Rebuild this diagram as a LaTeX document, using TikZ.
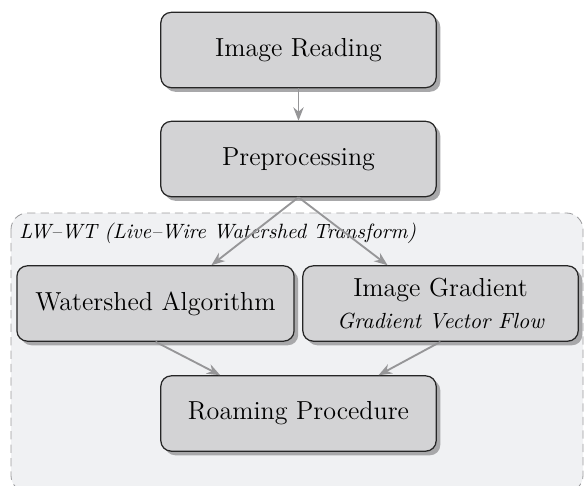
\documentclass[tikz,border=0pt]{standalone}
\usetikzlibrary{shadows,arrows.meta}

\definecolor{boxgray}{RGB}{211,211,213}
\definecolor{shadowgray}{RGB}{168,168,170}
\definecolor{panelgray}{RGB}{240,241,243}
\definecolor{dashgray}{RGB}{155,155,157}
\definecolor{arrowgray}{RGB}{150,150,152}

\tikzset{
  blk/.style={draw=black!85, fill=boxgray, rounded corners=5pt, line width=0.6pt,
    minimum width=4.68cm, minimum height=1.28cm, font=\fontsize{12.6}{15.2}\selectfont, align=center,
    drop shadow={shadow xshift=0.07cm, shadow yshift=-0.07cm, fill=shadowgray, opacity=1}},
  arr/.style={-{Stealth[length=6.5pt,width=5pt]}, draw=arrowgray, line width=0.9pt},
}

\begin{document}
\begin{tikzpicture}[x=0.017cm,y=-0.017cm]
  \useasboundingbox (0,0) rectangle (584,485);

  % LW-WT panel
  \draw[dashgray, dash pattern=on 4pt off 2.5pt, fill=panelgray, rounded corners=8pt]
    (11,213) rectangle (583,492);
  \node (lbl) at (19,223) [anchor=north west, inner sep=0pt, font=\fontsize{10}{12}\selectfont\itshape]
    {LW–WT (Live–Wire Watershed Transform)};

  \node (read) at (298.5,50) [blk]{Image Reading};
  \node (pre) at (298.5,159) [blk]{Preprocessing};

  \node (ws) at (155.5,303.5) [blk, minimum width=4.71cm]{Watershed Algorithm};
  \node (grad) at (440.5,303.5) [blk]{Image Gradient\\{\fontsize{10.6}{12}\selectfont\itshape Gradient Vector Flow}};

  \node (roam) at (298.5,413.5) [blk]{Roaming Procedure};


  \draw[arr] (read) -- (pre);

  \draw[arr] (pre.south) -- ([xshift=0.95cm]ws.north);
  \draw[arr] (pre.south) -- ([xshift=-0.9cm]grad.north);

  \draw[arr] (ws.south) -- ([xshift=-1.33cm]roam.north);
  \draw[arr] (grad.south) -- ([xshift=1.36cm]roam.north);

\end{tikzpicture}
\end{document}
